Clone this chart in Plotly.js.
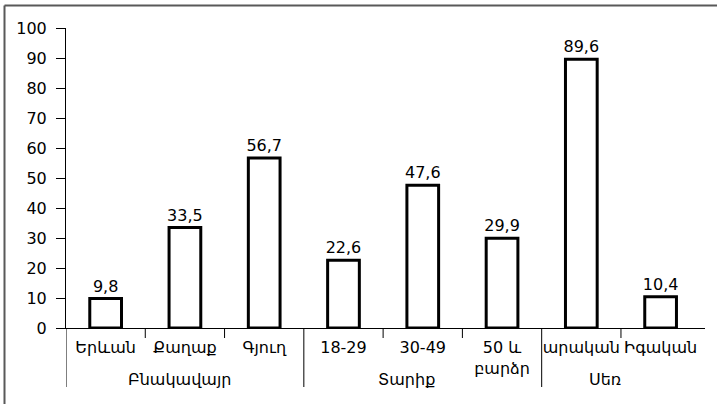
<!DOCTYPE html>
<html>
<head>
<meta charset="utf-8">
<script src="https://cdn.plot.ly/plotly-3.0.1.min.js"></script>
<style>html,body{margin:0;padding:0;background:#fff;}#chart{width:717px;height:404px;}</style>
</head>
<body>
<div id="chart"></div>
<script>
const categories = ['Երևան', 'Քաղաք', 'Գյուղ', '18-29', '30-49', '50 և<br>բարձր', 'արական', 'Իգական'];
const values = [9.8, 33.5, 56.7, 22.6, 47.6, 29.9, 89.6, 10.4];
const groups = ['Բնակավայր', 'Տարիք', 'Սեռ'];
const groupSizes = [3, 3, 2];
const groupShift = [-5, -16, -16];

const FONT = 'DejaVu Sans';
const FS = 16;

const shapes = [];
const annotations = [];
// frame: only left and top edges are visible in the picture
const fx0 = (4.5 - 66) / 639, fx1 = (720 - 66) / 639;
const fy0 = (328 - 410) / 300, fy1 = (328 - 5.5) / 300;
shapes.push({type: 'line', xref: 'paper', yref: 'paper', x0: fx0, x1: fx0, y0: fy0, y1: fy1,
  line: {color: '#595959', width: 2}});
shapes.push({type: 'line', xref: 'paper', yref: 'paper', x0: fx0, x1: fx1, y0: fy1, y1: fy1,
  line: {color: '#595959', width: 2}});

let start = 0;
groups.forEach((g, gi) => {
  const n = groupSizes[gi];
  shapes.push({type: 'line', xref: 'x', yref: 'paper', x0: start - 0.5, x1: start - 0.5,
    y0: 0, y1: (328 - 387) / 300, line: {color: '#000', width: 1}});
  for (let k = 1; k < n; k++) {
    const b = start + k - 0.5;
    shapes.push({type: 'line', xref: 'x', yref: 'paper', x0: b, x1: b,
      y0: 0, y1: (328 - 338) / 300, line: {color: '#000', width: 1}});
  }
  annotations.push({text: g, xref: 'x', yref: 'paper', x: start + (n - 1) / 2, xshift: groupShift[gi],
    y: (328 - 379) / 300, yanchor: 'middle', xanchor: 'center', showarrow: false,
    font: {family: FONT, size: FS, color: '#000'}});
  start += n;
});

const trace = {
  type: 'bar',
  x: categories,
  y: values,
  width: 0.4,
  marker: {color: '#ffffff', line: {color: '#000000', width: 3}},
  text: values,
  texttemplate: '%{y:.1f}',
  textposition: 'outside',
  constraintext: 'none',
  cliponaxis: false,
  textfont: {family: FONT, size: FS, color: '#000'},
  hoverinfo: 'none'
};

const layout = {
  width: 717, height: 404,
  margin: {l: 66, r: 12, t: 28, b: 76},
  paper_bgcolor: '#fff', plot_bgcolor: '#fff',
  separators: ', ',
  showlegend: false,
  font: {family: FONT, size: FS, color: '#000'},
  xaxis: {
    type: 'category', range: [-0.5, 7.56],
    showline: true, linecolor: '#000', linewidth: 1,
    ticks: '', showgrid: false, zeroline: false,
    ticklabelstandoff: 5,
    tickfont: {family: FONT, size: FS, color: '#000'}
  },
  yaxis: {
    range: [0, 100], dtick: 10, tick0: 0,
    showline: true, linecolor: '#000', linewidth: 1,
    ticks: 'outside', ticklen: 9, tickcolor: '#000', tickwidth: 1,
    ticklabelstandoff: 6,
    showgrid: false, zeroline: false,
    tickfont: {family: FONT, size: FS, color: '#000'}
  },
  shapes: shapes,
  annotations: annotations
};

Plotly.newPlot('chart', [trace], layout, {staticPlot: true});
</script>
</body>
</html>
